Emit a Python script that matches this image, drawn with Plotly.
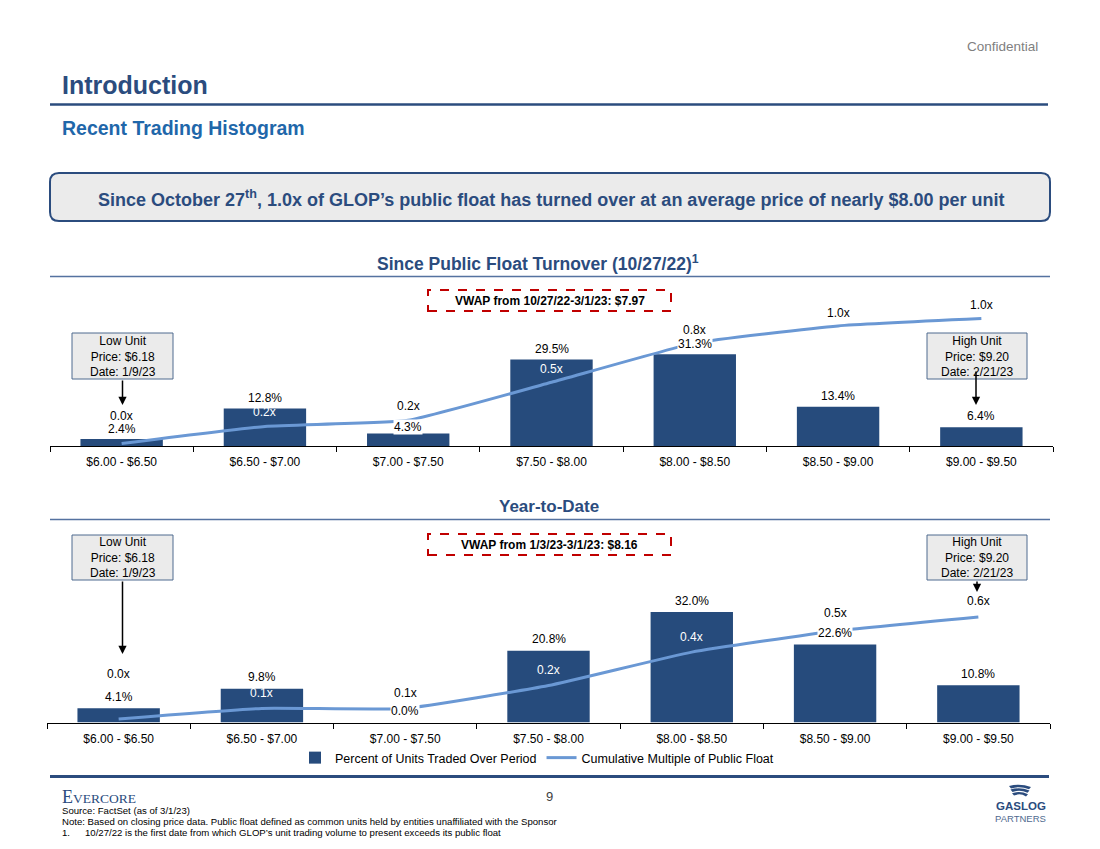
import plotly.graph_objects as go

# ---------------- data ----------------
categories = ["$6.00 - $6.50", "$6.50 - $7.00", "$7.00 - $7.50", "$7.50 - $8.00",
              "$8.00 - $8.50", "$8.50 - $9.00", "$9.00 - $9.50"]
since_pct = [2.4, 12.8, 4.3, 29.5, 31.3, 13.4, 6.4]
since_mult = [0.02, 0.16, 0.21, 0.52, 0.84, 0.98, 1.04]
ytd_pct = [4.1, 9.8, 0.0, 20.8, 32.0, 22.6, 10.8]
ytd_mult = [0.02, 0.08, 0.08, 0.21, 0.40, 0.52, 0.60]

bar_name = "Percent of Units Traded Over Period"
line_name = "Cumulative Multiple of Public Float"
since_title = "Since Public Float Turnover (10/27/22)<sup>1</sup>"
ytd_title = "Year-to-Date"
since_vwap = "VWAP from 10/27/22-3/1/23: $7.97"
ytd_vwap = "VWAP from 1/3/23-3/1/23: $8.16"
low_box = "Low Unit<br>Price: $6.18<br>Date: 1/9/23"
high_box = "High Unit<br>Price: $9.20<br>Date: 2/21/23"

# ---------------- styles ----------------
W, H = 1100, 849
FONT = "Liberation Sans, Arial, sans-serif"
NAVY = "#2B4C7E"
BAR = "#264B7C"
LINE = "#6A98D4"


def fx(p):
    return p / W


def fy(p):
    return 1 - p / H


# chart geometry (pixels)
top = dict(x0=50, x1=1053, base=446, top=300, pct_px=2.93, mult_px=122.5)
bot = dict(x0=47, x1=1050, base=722.5, top=540, pct_px=3.45, mult_px=176)

fig = go.Figure()

# top chart
fig.add_trace(go.Bar(x=categories, y=since_pct, xaxis="x", yaxis="y",
                     marker=dict(color=BAR, line=dict(width=0)), name=bar_name,
                     showlegend=True, hoverinfo="skip"))
fig.add_trace(go.Scatter(x=categories, y=since_mult, xaxis="x", yaxis="y2", mode="lines",
                         line=dict(color=LINE, width=3, shape="spline", smoothing=0.4),
                         name=line_name, showlegend=True, hoverinfo="skip"))
# bottom chart
fig.add_trace(go.Bar(x=categories, y=ytd_pct, xaxis="x2", yaxis="y3",
                     marker=dict(color=BAR, line=dict(width=0)), name=bar_name,
                     showlegend=False, hoverinfo="skip"))
fig.add_trace(go.Scatter(x=categories, y=ytd_mult, xaxis="x2", yaxis="y4", mode="lines",
                         line=dict(color=LINE, width=3, shape="spline", smoothing=0.4),
                         name=line_name, showlegend=False, hoverinfo="skip"))

xcommon = dict(type="category", tickson="boundaries", ticks="outside", ticklen=5,
               tickcolor="black", showline=True, linecolor="black", linewidth=1,
               showgrid=False, zeroline=False, fixedrange=True, ticklabelstandoff=5,
               tickfont=dict(family=FONT, size=12, color="black"))
ycommon = dict(visible=False, showgrid=False, zeroline=False, fixedrange=True)

h_top = top["base"] - top["top"]
h_bot = bot["base"] - bot["top"]

fig.update_layout(
    xaxis=dict(domain=[fx(top["x0"]), fx(top["x1"])], anchor="y", **xcommon),
    yaxis=dict(domain=[fy(top["base"]), fy(top["top"])], range=[0, h_top / top["pct_px"]], anchor="x", **ycommon),
    yaxis2=dict(overlaying="y", range=[0, h_top / top["mult_px"]], anchor="x", **ycommon),
    xaxis2=dict(domain=[fx(bot["x0"]), fx(bot["x1"])], anchor="y3", **xcommon),
    yaxis3=dict(domain=[fy(bot["base"]), fy(bot["top"])], range=[0, h_bot / bot["pct_px"]], anchor="x2", **ycommon),
    yaxis4=dict(overlaying="y3", range=[0, h_bot / bot["mult_px"]], anchor="x2", **ycommon),
)

annotations = []
shapes = []

# ---- bar & line data labels ----
top_bar_shift = [10, 11, 6, 11, 10, 11, 11]
bot_bar_shift = [11.5] * 7
top_line_shift = [28, 14, 14, 13, 13, 13, 14]
bot_line_shift = [45, 15.5, 15, 16, 15, 18, 16]
top_line_color = ["black", "white", "black", "white", "black", "black", "black"]
bot_line_color = ["black", "white", "black", "white", "white", "black", "black"]


def add_labels(xref, yref_bar, yref_line, pcts, mults, bshift, lshift, lcolor):
    for i, c in enumerate(categories):
        annotations.append(dict(x=c, y=pcts[i], xref=xref, yref=yref_bar, text=f"{pcts[i]:.1f}%",
                                showarrow=False, yanchor="middle", yshift=bshift[i],
                                bgcolor="white", borderpad=0,
                                font=dict(family=FONT, size=12, color="black")))
    for i, c in enumerate(categories):
        annotations.append(dict(x=c, y=mults[i], xref=xref, yref=yref_line, text=f"{mults[i]:.1f}x",
                                showarrow=False, yanchor="middle", yshift=lshift[i],
                                font=dict(family=FONT, size=12, color=lcolor[i])))


add_labels("x", "y", "y2", since_pct, since_mult, top_bar_shift, top_line_shift, top_line_color)
add_labels("x2", "y3", "y4", ytd_pct, ytd_mult, bot_bar_shift, bot_line_shift, bot_line_color)


def text(x, y, s, size=12, color="black", xanchor="center", yanchor="middle", family=FONT):
    annotations.append(dict(x=fx(x), y=fy(y), xref="paper", yref="paper", text=s, showarrow=False,
                            xanchor=xanchor, yanchor=yanchor, align="left" if xanchor == "left" else "center",
                            font=dict(family=family, size=size, color=color)))


def hline(y, x0, x1, color, width):
    shapes.append(dict(type="line", xref="paper", yref="paper", x0=fx(x0), x1=fx(x1), y0=fy(y), y1=fy(y),
                       line=dict(color=color, width=width)))


def rect(x0, y0, x1, y1, fill, color, width, dash="solid"):
    shapes.append(dict(type="rect", xref="paper", yref="paper", x0=fx(x0), x1=fx(x1), y0=fy(y1), y1=fy(y0),
                       fillcolor=fill, line=dict(color=color, width=width, dash=dash), layer="above"))


def arrow(x, y_from, y_to):
    annotations.append(dict(x=fx(x), y=fy(y_to), xref="paper", yref="paper", text="", showarrow=True,
                            ax=0, ay=-(y_to - y_from), axref="pixel", ayref="pixel",
                            arrowhead=2, arrowsize=1.1, arrowwidth=1.5, arrowcolor="black"))


# ---- header ----
text(1040, 46, "Confidential", size=13.5, color="#7F7F7F", xanchor="right")
text(60, 85, "<b>Introduction</b>", size=25, color=NAVY, xanchor="left")
hline(104.5, 50, 1048, NAVY, 2.5)
text(60, 128, "<b>Recent Trading Histogram</b>", size=19.5, color="#1F67AA", xanchor="left")

# callout rounded box
x0, x1, y0, y1 = fx(50), fx(1050), fy(221), fy(173)
rx, ry = 9 / W, 9 / H
path = (f"M {x0+rx},{y1} L {x1-rx},{y1} Q {x1},{y1} {x1},{y1-ry} L {x1},{y0+ry} Q {x1},{y0} {x1-rx},{y0} "
        f"L {x0+rx},{y0} Q {x0},{y0} {x0},{y0+ry} L {x0},{y1-ry} Q {x0},{y1} {x0+rx},{y1} Z")
shapes.append(dict(type="path", path=path, xref="paper", yref="paper", fillcolor="#EBEBEB",
                   line=dict(color=NAVY, width=2), layer="below"))
text(551, 198, "<b>Since October 27<sup>th</sup>, 1.0x of GLOP’s public float has turned over at an "
     "average price of nearly $8.00 per unit</b>", size=18, color=NAVY)

# ---- chart titles ----
text(538, 263, f"<b>{since_title}</b>", size=17.5, color=NAVY)
hline(276.5, 50, 1050, "#5572A0", 1.5)
text(549, 506, f"<b>{ytd_title}</b>", size=17, color=NAVY)
hline(519.5, 50, 1050, "#5572A0", 1.5)

# ---- VWAP boxes ----
rect(428, 290, 671, 311, "rgba(0,0,0,0)", "#C00000", 2, "dash")
text(549.5, 300.5, f"<b>{since_vwap}</b>", size=12)
rect(428, 534, 671, 555, "rgba(0,0,0,0)", "#C00000", 2, "dash")
text(549.5, 544.5, f"<b>{ytd_vwap}</b>", size=12)

# ---- low/high boxes ----
BOXLINE = "#4F6A8F"
rect(72, 333, 173, 379, "#EBEBEB", BOXLINE, 1)
text(122.5, 356, low_box, size=12)
arrow(122.5, 379, 405)
rect(927, 333, 1027, 379, "#EBEBEB", BOXLINE, 1)
text(977, 356, high_box, size=12)
arrow(976, 370, 405)

rect(72, 535, 173, 580, "#EBEBEB", BOXLINE, 1)
text(122.5, 557.5, low_box, size=12)
arrow(122.5, 580, 654)
rect(927, 535, 1027, 580, "#EBEBEB", BOXLINE, 1)
text(977, 557.5, high_box, size=12)
arrow(977, 580, 592)

# ---- footer ----
hline(776.5, 50, 1049, NAVY, 3)
text(60, 797, "E<span style='font-size:13.5px'>VERCORE</span>", size=18, color=NAVY,
     xanchor="left", family="Liberation Serif, Times New Roman, serif")
text(549, 796, "9", size=13, color="#404040")
text(60, 810, "Source: FactSet (as of 3/1/23)", size=9.6, xanchor="left")
text(60, 821, "Note: Based on closing price data. Public float defined as common units held by entities "
     "unaffiliated with the Sponsor", size=9.6, xanchor="left")
text(60, 832, "1.", size=9.6, xanchor="left")
text(83, 832, "10/27/22 is the first date from which GLOP’s unit trading volume to present exceeds its "
     "public float", size=9.6, xanchor="left")

# GasLog logo
for k in range(3):
    yy = 786 + k * 3.6
    p = (f"M {fx(1009 + k*1.5)},{fy(yy)} Q {fx(1020)},{fy(yy-3)} {fx(1031 - k*1.5)},{fy(yy + 1)} "
         f"L {fx(1029 - k*1.5)},{fy(yy + 3.2)} Q {fx(1020)},{fy(yy-0.5)} {fx(1011 + k*1.5)},{fy(yy + 2.4)} Z")
    shapes.append(dict(type="path", path=p, xref="paper", yref="paper", fillcolor=NAVY,
                       line=dict(width=0)))
text(1020.5, 805.5, "<b>GASLOG</b>", size=11.5, color=NAVY)
text(1020.5, 818, "PARTNERS", size=9.5, color="#4F6A8F")

fig.update_layout(
    annotations=annotations,
    shapes=shapes,
    width=W, height=H,
    margin=dict(l=0, r=0, t=0, b=0),
    paper_bgcolor="white", plot_bgcolor="rgba(0,0,0,0)",
    bargap=0.425,
    showlegend=True,
    legend=dict(orientation="h", x=fx(295), y=fy(758), xanchor="left", yanchor="middle",
                font=dict(family=FONT, size=12.5, color="black"), bgcolor="rgba(0,0,0,0)",
                itemwidth=30, tracegroupgap=0),
    font=dict(family=FONT, color="black"),
)

fig.write_html("out.html", config={"displayModeBar": False, "staticPlot": True},
               post_script="document.body.style.margin='0';document.body.style.padding='0';"
                           "document.documentElement.style.overflow='hidden';")
